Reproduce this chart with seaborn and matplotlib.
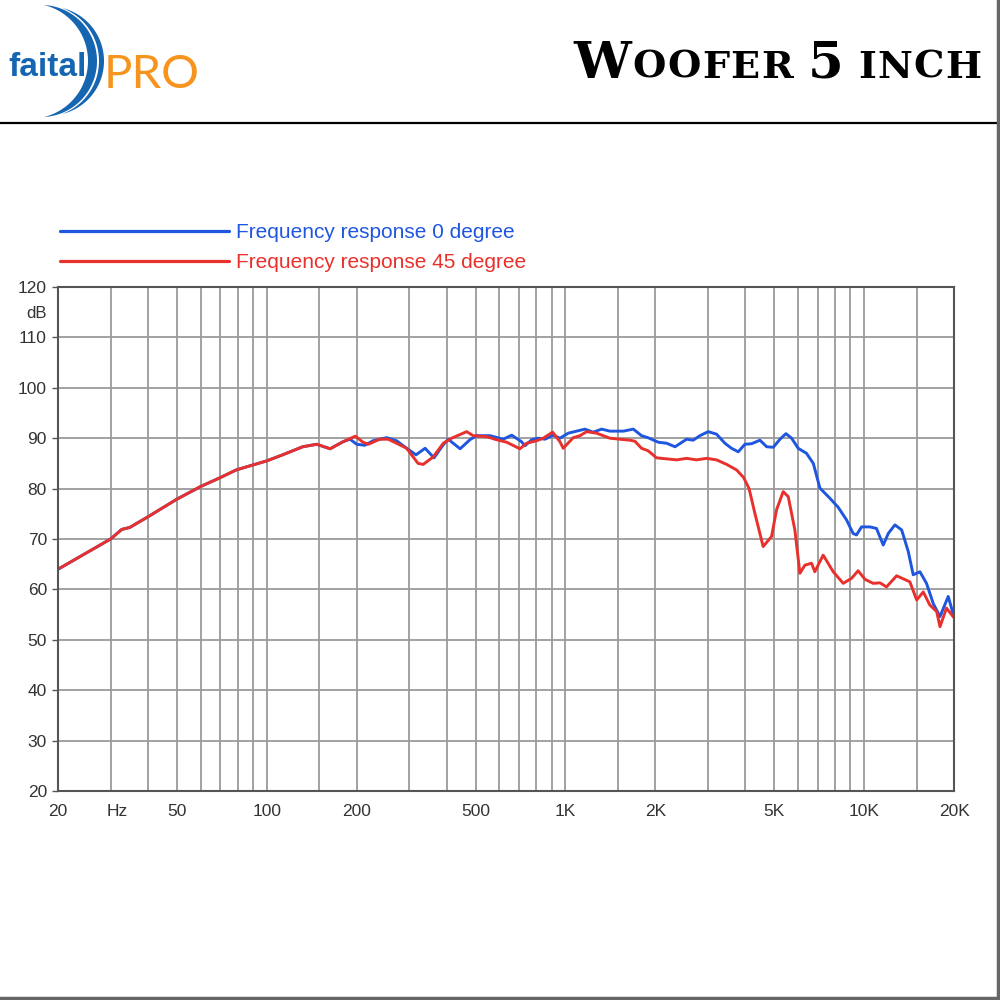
import numpy as np
import pandas as pd
import matplotlib
matplotlib.use('Agg')
import matplotlib.pyplot as plt
import matplotlib.transforms as mtransforms
import seaborn as sns
from matplotlib.lines import Line2D
from matplotlib.patches import Polygon
from matplotlib.ticker import NullLocator

# ---------------- data ----------------
series_labels = ['Frequency response 0 degree', 'Frequency response 45 degree']

freq_0deg = [20, 30, 32.7, 34.8, 40, 50, 60, 70, 79, 90, 100, 113, 132, 147, 163, 180, 190,
             200, 213, 227, 252, 272, 294, 316, 339, 363, 390, 405, 444, 479, 504, 559, 619,
             661, 713, 732, 771, 811, 854, 910, 959, 1022, 1090, 1162, 1239, 1322, 1409, 1563,
             1688, 1798, 1890, 2047, 2182, 2328, 2546, 2678, 2820, 3007, 3206, 3420, 3598,
             3790, 3990, 4198, 4480, 4720, 4965, 5228, 5475, 5718, 6016, 6414, 6760, 7112,
             7678, 8186, 8732, 9190, 9430, 9806, 10450, 11000, 11590, 12050, 12680, 13360,
             14060, 14600, 15380, 16180, 17040, 17950, 19130, 19860, 20000]
spl_0deg = [64.0, 70.0, 71.9, 72.3, 74.4, 77.9, 80.4, 82.2, 83.7, 84.7, 85.5, 86.7, 88.3, 88.8,
            87.9, 89.3, 89.8, 88.8, 88.6, 89.5, 90.1, 89.5, 88.0, 86.7, 88.0, 86.1, 88.7, 89.8,
            87.9, 89.7, 90.5, 90.5, 89.8, 90.6, 89.3, 88.5, 89.7, 90.0, 89.8, 90.6, 90.0, 91.0,
            91.4, 91.8, 91.2, 91.8, 91.4, 91.4, 91.8, 90.5, 90.1, 89.2, 89.0, 88.3, 89.8, 89.6,
            90.5, 91.3, 90.8, 89.0, 88.0, 87.3, 88.8, 88.9, 89.6, 88.3, 88.2, 89.8, 90.9, 90.0,
            88.0, 87.0, 85.0, 80.1, 78.1, 76.3, 73.8, 71.1, 70.8, 72.4, 72.4, 72.1, 68.8, 71.1,
            72.8, 71.8, 67.5, 62.9, 63.5, 61.2, 57.2, 54.6, 58.6, 55.2, 55.0]

freq_45deg = [20, 30, 32.7, 34.8, 40, 50, 60, 70, 79, 90, 100, 113, 132, 147, 163, 180, 198,
              210, 219, 239, 255, 272, 294, 321, 334, 361, 390, 416, 467, 491, 545, 588, 636,
              704, 741, 801, 843, 906, 959, 983, 1062, 1119, 1178, 1271, 1409, 1521, 1644,
              1708, 1798, 1893, 2019, 2182, 2356, 2546, 2748, 2970, 3206, 3466, 3742, 3950,
              4120, 4308, 4592, 4900, 5092, 5360, 5572, 5864, 6096, 6334, 6668, 6840, 7294,
              7884, 8514, 9080, 9550, 10070, 10720, 11300, 11890, 12850, 14230, 15000, 15780,
              16600, 17500, 17950, 18880, 19860, 20000]
spl_45deg = [64.0, 70.0, 71.9, 72.3, 74.4, 77.9, 80.4, 82.2, 83.7, 84.7, 85.5, 86.7, 88.3, 88.8,
             87.9, 89.3, 90.4, 89.2, 88.8, 89.8, 89.8, 89.0, 88.0, 85.0, 84.8, 86.3, 89.0, 90.0,
             91.3, 90.5, 90.3, 89.7, 89.2, 87.9, 89.0, 89.5, 90.0, 91.2, 89.3, 88.0, 90.1, 90.5,
             91.3, 91.0, 90.0, 89.8, 89.6, 89.4, 88.0, 87.5, 86.1, 85.9, 85.7, 86.0, 85.7, 86.0,
             85.7, 84.8, 83.7, 82.2, 80.0, 75.1, 68.5, 70.5, 75.8, 79.4, 78.4, 71.8, 63.2, 64.8,
             65.2, 63.5, 66.8, 63.5, 61.2, 62.2, 63.7, 62.0, 61.2, 61.3, 60.5, 62.7, 61.5, 57.9,
             59.5, 56.9, 55.6, 52.6, 56.3, 54.6, 54.4]

grid_freqs = [20, 30, 40, 50, 60, 70, 80, 90, 100, 150, 200, 300, 400, 500, 600, 700, 800, 900,
              1000, 1500, 2000, 3000, 4000, 5000, 6000, 7000, 8000, 9000, 10000, 15000, 20000]
xtick_text = {20: '20', 30: 'Hz', 50: '50', 100: '100', 200: '200', 500: '500', 1000: '1K',
              2000: '2K', 5000: '5K', 10000: '10K', 20000: '20K'}
ytick_values = [20, 30, 40, 50, 60, 70, 80, 90, 100, 110, 120]
y_unit = 'dB'
title_text = 'Woofer 5 inch'
brand_left = 'faital'
brand_right = 'PRO'

# ---------------- style ----------------
sns.set_theme(style='white')
plt.rcParams['font.family'] = ['Liberation Sans', 'DejaVu Sans']

BLUE = '#1f56e0'
RED = '#e8302c'
GRID = '#9a9a9a'
LOGO_BLUE = '#1565b0'
LOGO_ORANGE = '#f7941d'

fig = plt.figure(figsize=(10, 10), dpi=100)
fig.patch.set_facecolor('white')
ax = fig.add_axes([0.058, 0.209, 0.896, 0.504])

df = pd.concat([
    pd.DataFrame({'freq': freq_0deg, 'spl': spl_0deg, 'series': series_labels[0]}),
    pd.DataFrame({'freq': freq_45deg, 'spl': spl_45deg, 'series': series_labels[1]}),
], ignore_index=True)

sns.lineplot(data=df, x='freq', y='spl', hue='series', hue_order=series_labels,
             palette=[BLUE, RED], linewidth=2.1, sort=False, estimator=None, ax=ax,
             legend=True)

ax.set_xscale('log')
ax.set_xlim(20, 20000)
ax.set_ylim(20, 120)
ax.set_xlabel('')
ax.set_ylabel('')

ax.set_xticks(grid_freqs)
ax.set_xticklabels([xtick_text.get(f, '') for f in grid_freqs], fontsize=12.5, color='#333333')
ax.xaxis.set_minor_locator(NullLocator())
ax.set_yticks(ytick_values)
ax.set_yticklabels([str(v) for v in ytick_values], fontsize=12.5, color='#333333')
ax.tick_params(axis='x', length=0, pad=9)
ax.tick_params(axis='y', length=4, width=1, color='#555555', pad=4, left=True)
ax.grid(True, which='major', color=GRID, linewidth=1.3)
for s in ax.spines.values():
    s.set_color('#555555')
    s.set_linewidth(1.5)
    s.set_visible(True)

# the "Hz" label sits slightly right of its grid line
hz_shift = mtransforms.ScaledTranslation(7 / 100, 0, fig.dpi_scale_trans)
for lab in ax.get_xticklabels():
    if lab.get_text() == 'Hz':
        lab.set_transform(lab.get_transform() + hz_shift)

ax.text(-0.013, 114.8, y_unit, transform=ax.get_yaxis_transform(), ha='right', va='center',
        fontsize=12, color='#333333')

leg = ax.legend(loc='upper left', bbox_to_anchor=(0.06, 0.777), bbox_transform=fig.transFigure,
                frameon=False, handlelength=8.1, handletextpad=0.35, labelspacing=0.55,
                borderpad=0, borderaxespad=0, prop={'family': ['Liberation Sans', 'DejaVu Sans'], 'size': 15})
for txt, col in zip(leg.get_texts(), [BLUE, RED]):
    txt.set_color(col)
for h in leg.legend_handles:
    h.set_linewidth(2.3)

# ---------------- header ----------------
fig.add_artist(Line2D([0, 1], [0.877, 0.877], color='black', linewidth=1.6))
fig.add_artist(Line2D([0.9975, 0.9975], [0, 1], color='#666666', linewidth=2.5))
fig.add_artist(Line2D([0, 1], [0.0025, 0.0025], color='#666666', linewidth=2.5))


def crescent(tx, h, cy, x_out, x_in, color):
    """Crescent whose two arcs meet at tips (tx, cy-h) and (tx, cy+h) (pixel coords)."""
    pts = []
    for X, rev in ((x_out, False), (x_in, True)):
        c = (X ** 2 - tx ** 2 - h ** 2) / (2.0 * (X - tx))
        r = X - c
        a0 = np.arctan2(-h, tx - c)
        a1 = np.arctan2(h, tx - c)
        t = np.linspace(a0, a1, 90)
        if rev:
            t = t[::-1]
        pts.append(np.column_stack([c + r * np.cos(t), cy + r * np.sin(t)]))
    p = np.vstack(pts)
    p[:, 0] /= 1000.0
    p[:, 1] = 1 - p[:, 1] / 1000.0
    fig.add_artist(Polygon(p, closed=True, facecolor=color, edgecolor='none', zorder=1))


crescent(44, 56, 61, 97, 88, LOGO_BLUE)
crescent(62, 53, 61, 104, 99, LOGO_BLUE)

fig.text(0.008, 1 - 76 / 1000, brand_left, fontsize=24, fontweight='bold', color=LOGO_BLUE,
         family=['Liberation Sans', 'DejaVu Sans'], ha='left', va='baseline', zorder=3)
fig.text(0.104, 1 - 88 / 1000, brand_right, fontsize=34, fontweight='normal', color=LOGO_ORANGE,
         family=['Lato', 'DejaVu Sans'], ha='left', va='baseline', zorder=3)

# title in small caps, built from real text
renderer = fig.canvas.get_renderer()
pieces = []
for wi, word in enumerate(title_text.split(' ')):
    if wi > 0:
        pieces.append((' ', 'gap'))
    if word[0].isupper() or word[0].isdigit():
        pieces.append((word[0], 'big'))
        rest = word[1:]
    else:
        rest = word
    for ch in rest.upper():
        pieces.append((ch, 'small'))

sizes = {'big': 37, 'small': 27.5}
x_px = 573
base_y = 1 - 78 / 1000
for text, kind in pieces:
    if kind == 'gap':
        x_px += 13
        continue
    t = fig.text(x_px / 1000, base_y, text, fontsize=sizes[kind], fontweight='bold',
                 family=['DejaVu Serif'], color='black', ha='left', va='baseline')
    w = t.get_window_extent(renderer).width
    x_px += w + 1.5

fig.savefig('out.png', dpi=100, facecolor='white')
